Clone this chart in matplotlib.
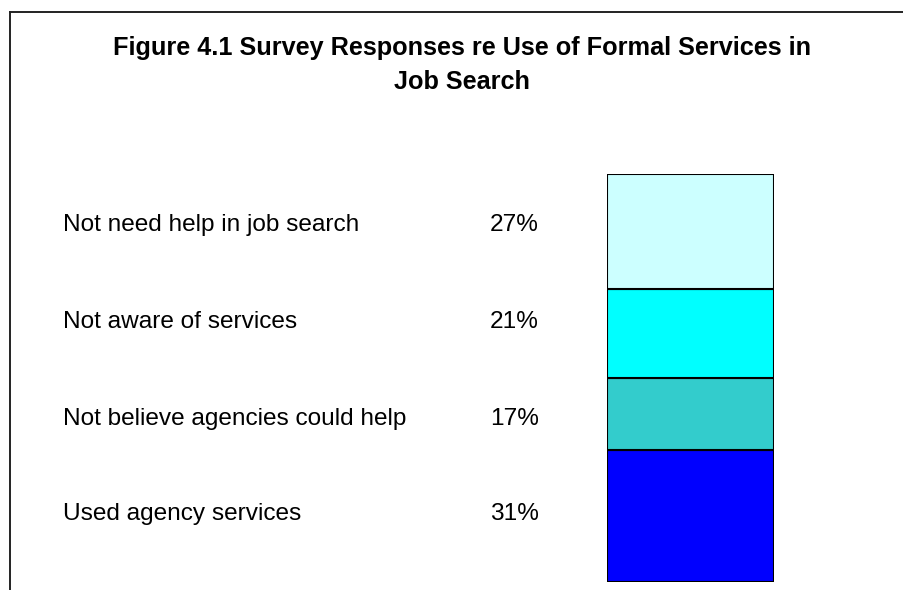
import matplotlib.pyplot as plt
from matplotlib.lines import Line2D

# data, bottom to top of the stack
categories = ["Used agency services", "Not believe agencies could help",
              "Not aware of services", "Not need help in job search"]
values = [31, 17, 21, 27]
colors = ["#0000FF", "#33CCCC", "#00FFFF", "#CCFFFF"]
title = "Figure 4.1 Survey Responses re Use of Formal Services in\nJob Search"

W, H = 904, 590
plt.rcParams['font.family'] = ['Liberation Sans', 'DejaVu Sans']
fig = plt.figure(figsize=(W / 100, H / 100), dpi=100)

# outer frame (cut off at right and bottom)
fig.add_artist(Line2D([10 / W, 1], [1 - 12 / H, 1 - 12 / H], color='#222222', lw=1.4))
fig.add_artist(Line2D([10 / W, 10 / W], [0, 1 - 12 / H], color='#222222', lw=1.4))

line1, line2 = title.split("\n")
fig.text(462 / W, 1 - 55 / H, line1, ha='center', va='baseline',
         fontsize=18.2, fontweight='bold')
fig.text(462 / W, 1 - 89 / H, line2, ha='center', va='baseline',
         fontsize=18.2, fontweight='bold')

# stacked single column
ax = fig.add_axes([607 / W, 1 - 582 / H, (774 - 607) / W, (582 - 174) / H])
bottom = 0
for v, c in zip(values, colors):
    ax.bar(0, v, width=1, bottom=bottom, color=c, edgecolor='black', linewidth=1.5)
    bottom += v
ax.set_xlim(-0.5, 0.5)
ax.set_ylim(0, sum(values))
ax.axis('off')

# legend-like labels, top to bottom
baselines = [231, 328, 425, 520]
for cat, v, yb in zip(categories[::-1], values[::-1], baselines):
    fig.text(63 / W, 1 - yb / H, cat, ha='left', va='baseline', fontsize=17.6)
    fig.text(539 / W, 1 - yb / H, f"{v}%", ha='right', va='baseline', fontsize=17.6)

fig.savefig('out.png', dpi=100)
